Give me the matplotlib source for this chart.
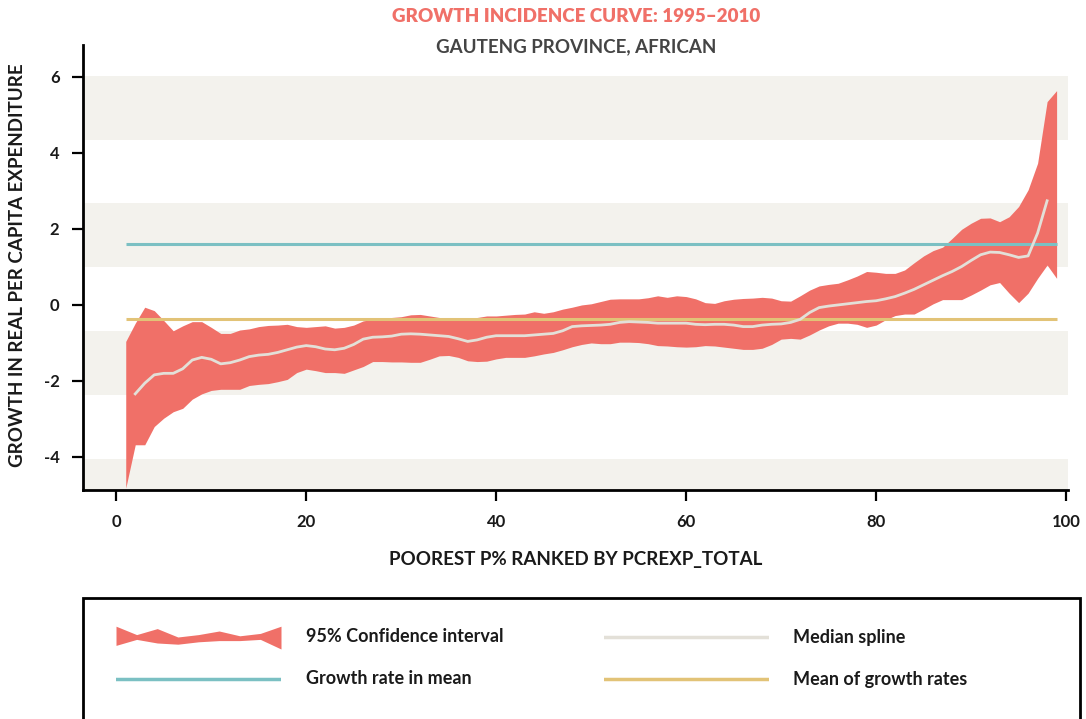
import numpy as np
import matplotlib
matplotlib.use("Agg")
from matplotlib import pyplot as plt
from matplotlib.patches import Rectangle

plt.rcParams['font.family'] = ['Lato', 'DejaVu Sans']
plt.rcParams['axes.unicode_minus'] = False

# percentile of the expenditure distribution
pct = np.arange(1, 100)

ci_upper = [-0.96, -0.48, -0.06, -0.15, -0.41, -0.68, -0.55, -0.44, -0.44, -0.59,
            -0.75, -0.75, -0.66, -0.63, -0.57, -0.54, -0.53, -0.51, -0.57, -0.59,
            -0.57, -0.55, -0.61, -0.59, -0.53, -0.42, -0.38, -0.35, -0.33, -0.31,
            -0.26, -0.25, -0.29, -0.33, -0.35, -0.35, -0.35, -0.33, -0.29, -0.29,
            -0.27, -0.25, -0.24, -0.18, -0.22, -0.18, -0.11, -0.06, 0.00, 0.03,
            0.09, 0.15, 0.16, 0.16, 0.16, 0.19, 0.24, 0.20, 0.24, 0.22,
            0.16, 0.06, 0.04, 0.11, 0.15, 0.17, 0.18, 0.20, 0.18, 0.11,
            0.10, 0.24, 0.39, 0.50, 0.54, 0.57, 0.66, 0.76, 0.88, 0.86,
            0.83, 0.83, 0.92, 1.11, 1.29, 1.43, 1.52, 1.75, 1.99, 2.15,
            2.28, 2.29, 2.19, 2.32, 2.59, 3.03, 3.73, 5.35, 5.64]

ci_lower = [-4.82, -3.68, -3.68, -3.20, -2.98, -2.81, -2.72, -2.48, -2.34, -2.25,
            -2.22, -2.22, -2.22, -2.12, -2.09, -2.07, -2.02, -1.96, -1.78, -1.69,
            -1.73, -1.78, -1.78, -1.80, -1.71, -1.62, -1.49, -1.49, -1.50, -1.50,
            -1.51, -1.51, -1.43, -1.34, -1.33, -1.38, -1.47, -1.49, -1.48, -1.42,
            -1.38, -1.38, -1.38, -1.34, -1.29, -1.25, -1.18, -1.10, -1.04, -1.00,
            -1.02, -1.02, -0.98, -0.98, -0.99, -1.02, -1.07, -1.08, -1.10, -1.11,
            -1.10, -1.07, -1.08, -1.11, -1.14, -1.17, -1.17, -1.14, -1.04, -0.90,
            -0.88, -0.90, -0.79, -0.66, -0.55, -0.48, -0.48, -0.51, -0.59, -0.53,
            -0.39, -0.28, -0.24, -0.24, -0.11, 0.03, 0.14, 0.14, 0.14, 0.26,
            0.39, 0.53, 0.59, 0.31, 0.06, 0.31, 0.70, 1.05, 0.70]

median_pct = np.arange(2, 99)
median_spline = [-2.34, -2.06, -1.84, -1.80, -1.80, -1.68, -1.45, -1.38, -1.43,
                 -1.55, -1.52, -1.45, -1.36, -1.32, -1.30, -1.25, -1.18, -1.11, -1.07,
                 -1.10, -1.16, -1.18, -1.14, -1.04, -0.90, -0.85, -0.84, -0.82, -0.77,
                 -0.76, -0.77, -0.79, -0.81, -0.83, -0.89, -0.96, -0.92, -0.85, -0.81,
                 -0.81, -0.81, -0.81, -0.79, -0.77, -0.75, -0.68, -0.57, -0.55, -0.54,
                 -0.53, -0.51, -0.46, -0.44, -0.45, -0.46, -0.48, -0.48, -0.48, -0.48,
                 -0.51, -0.52, -0.51, -0.51, -0.53, -0.57, -0.57, -0.53, -0.51, -0.50,
                 -0.46, -0.38, -0.20, -0.07, -0.03, 0.00, 0.03, 0.06, 0.09, 0.11,
                 0.16, 0.22, 0.31, 0.41, 0.53, 0.65, 0.77, 0.88, 1.01, 1.17,
                 1.32, 1.39, 1.38, 1.32, 1.25, 1.29, 1.89, 2.74]

growth_rate_in_mean = 1.61
mean_of_growth_rates = -0.37

y_ticks = [-4, -2, 0, 2, 4, 6]
x_ticks = [0, 20, 40, 60, 80, 100]

RED = '#f07068'
MED = '#e3e0d8'
BLUE = '#7bc0c3'
GOLD = '#e2c377'
STRIPE = '#f3f2ed'
DARK = '#1a1a1a'

W, H = 1086, 719
fig = plt.figure(figsize=(W / 100, H / 100), dpi=100)
ax = fig.add_axes([83 / W, 1 - 490 / H, 985 / W, 445 / H])
ax.set_xlim(-3.5, 100.2)
ax.set_ylim(-4.87, 6.84)

# background stripes
for lo, hi in [(4.34, 6.03), (1.01, 2.68), (-2.37, -0.68), (-6.0, -4.05)]:
    ax.axhspan(lo, hi, color=STRIPE, lw=0, zorder=0)

ax.fill_between(pct, ci_lower, ci_upper, color=RED, lw=0, zorder=2)
ax.hlines(growth_rate_in_mean, pct[0], pct[-1], color=BLUE, lw=2.2, zorder=3)
ax.hlines(mean_of_growth_rates, pct[0], pct[-1], color=GOLD, lw=2.2, zorder=3)
ax.plot(median_pct, median_spline, color=MED, lw=2, zorder=4)

for s in ['top', 'right']:
    ax.spines[s].set_visible(False)
for s in ['left', 'bottom']:
    ax.spines[s].set_linewidth(2)
    ax.spines[s].set_color('black')

ax.set_xticks(x_ticks)
ax.set_yticks(y_ticks)
ax.tick_params(length=8, width=1.6, color='black', labelsize=12,
               labelcolor=DARK)
for lab in ax.get_xticklabels() + ax.get_yticklabels():
    lab.set_fontweight('bold')
ax.tick_params(axis='x', pad=9)
ax.tick_params(axis='y', pad=9)

fig.text(576 / W, 1 - 17 / H, 'GROWTH INCIDENCE CURVE: 1995–2010', color=RED,
         fontsize=13.5, fontweight='heavy', ha='center', va='center')
fig.text(576 / W, 1 - 47 / H, 'GAUTENG PROVINCE, AFRICAN', color='#444444',
         fontsize=13.5, fontweight='bold', ha='center', va='center')
fig.text(18 / W, 1 - 265 / H, 'GROWTH IN REAL PER CAPITA EXPENDITURE', color=DARK,
         fontsize=13.5, fontweight='bold', rotation=90, ha='center', va='center')
fig.text(576 / W, 1 - 560 / H, 'POOREST P% RANKED BY PCREXP_TOTAL', color=DARK,
         fontsize=13.5, fontweight='bold', ha='center', va='center')

# legend box, cut off at the bottom of the image
fig.patches.append(Rectangle((83 / W, -0.05), 997 / W, 0.05 + 1 - 598 / H,
                             transform=fig.transFigure, fill=False,
                             edgecolor='black', lw=2))

# legend glyphs
icon_x = np.linspace(0, 1, 9)
icon_top = [0.95, 0.6, 0.85, 0.5, 0.6, 0.75, 0.55, 0.65, 0.95]
icon_bot = [0.15, 0.4, 0.25, 0.2, 0.3, 0.35, 0.35, 0.4, 0.0]

def legend_axes(x0, yc):
    a = fig.add_axes([x0 / W, 1 - (yc + 12) / H, 165 / W, 24 / H])
    a.set_xlim(0, 1)
    a.set_ylim(0, 1)
    a.axis('off')
    return a

a = legend_axes(116, 637)
a.fill_between(icon_x, icon_bot, icon_top, color=RED, lw=0)
a = legend_axes(604, 637)
a.plot([0, 1], [0.5, 0.5], color=MED, lw=2.5)
a = legend_axes(116, 679)
a.plot([0, 1], [0.5, 0.5], color=BLUE, lw=2.5)
a = legend_axes(604, 679)
a.plot([0, 1], [0.5, 0.5], color=GOLD, lw=2.5)

for x0, yc, txt in [(306, 637, '95% Confidence interval'), (793, 637, 'Median spline'),
                    (306, 679, 'Growth rate in mean'), (793, 679, 'Mean of growth rates')]:
    fig.text(x0 / W, 1 - yc / H, txt, color=DARK, fontsize=13,
             fontweight='bold', ha='left', va='center')

fig.savefig('out.png', dpi=100)
